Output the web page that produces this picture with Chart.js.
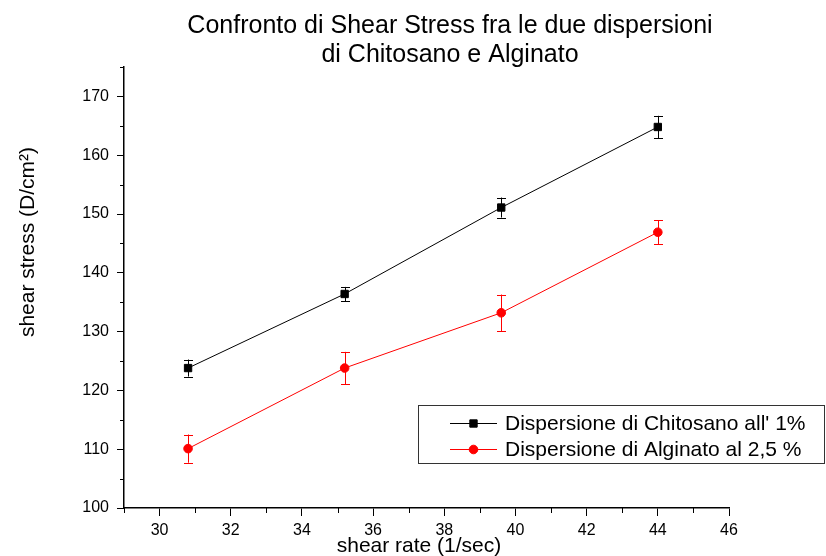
<!DOCTYPE html>
<html>
<head>
<meta charset="utf-8">
<script src="https://cdn.jsdelivr.net/npm/chart.js@4/dist/chart.umd.min.js"></script>
<style>
    html, body { margin: 0; padding: 0; background: #fff; }
</style>
</head>
<body>
<canvas id="shearChart" width="826" height="556"></canvas>
<script>
// Values
const shearRate = [30.8, 35.2, 39.6, 44.0];
const chitosano = [123.8, 136.4, 151.1, 164.8];
const chitosanoErr = [1.45, 1.2, 1.7, 1.9];
const alginato = [110.1, 123.8, 133.2, 146.9];
const alginatoErr = [2.4, 2.75, 3.1, 2.0];

// Axis ticks
const xTicks = [30, 32, 34, 36, 38, 40, 42, 44, 46];
const xMinorTicks = [29, 31, 33, 35, 37, 39, 41, 43, 45];
const yTicks = [100, 110, 120, 130, 140, 150, 160, 170];
const yMinorTicks = [105, 115, 125, 135, 145, 155, 165, 175];

// Texts
const chartTitle = ['Confronto di Shear Stress fra le due dispersioni', 'di Chitosano e Alginato'];
const xTitle = 'shear rate (1/sec)';
const yTitle = 'shear stress (D/cm²)';
const seriesNames = ["Dispersione di Chitosano all' 1%", 'Dispersione di Alginato al 2,5 %'];

const FONT = '"Liberation Sans", Arial, sans-serif';

// Build scatter points from the arrays
function toPoints(xs, ys) {
    return xs.map((x, i) => ({ x: x, y: ys[i] }));
}

// Error bars drawn through the chart scales
const errorBarPlugin = {
    id: 'errorBars',
    afterDatasetsDraw(chart) {
        const ctx = chart.ctx;
        const xScale = chart.scales.x;
        const yScale = chart.scales.y;
        chart.data.datasets.forEach(ds => {
            ctx.save();
            ctx.strokeStyle = ds.borderColor;
            ctx.lineWidth = 1;
            ds.data.forEach((p, i) => {
                const err = ds.errors[i];
                const px = Math.round(xScale.getPixelForValue(p.x)) + 0.5;
                const top = yScale.getPixelForValue(p.y + err);
                const bottom = yScale.getPixelForValue(p.y - err);
                ctx.beginPath();
                ctx.moveTo(px, top);
                ctx.lineTo(px, bottom);
                ctx.moveTo(px - 4.5, Math.round(top) + 0.5);
                ctx.lineTo(px + 4.5, Math.round(top) + 0.5);
                ctx.moveTo(px - 4.5, Math.round(bottom) + 0.5);
                ctx.lineTo(px + 4.5, Math.round(bottom) + 0.5);
                ctx.stroke();
            });
            ctx.restore();
        });
    }
};

// Minor ticks (shorter) outside the axes
const minorTickPlugin = {
    id: 'minorTicks',
    afterDraw(chart) {
        const ctx = chart.ctx;
        const area = chart.chartArea;
        ctx.save();
        ctx.strokeStyle = '#000';
        ctx.lineWidth = 1;
        ctx.beginPath();
        xMinorTicks.forEach(v => {
            const px = Math.round(chart.scales.x.getPixelForValue(v)) + 0.5;
            ctx.moveTo(px, area.bottom);
            ctx.lineTo(px, area.bottom + 5);
        });
        yMinorTicks.forEach(v => {
            const py = Math.round(chart.scales.y.getPixelForValue(v)) + 0.5;
            ctx.moveTo(area.left, py);
            ctx.lineTo(area.left - 4, py);
        });
        ctx.stroke();
        ctx.restore();
    }
};

// Title and axis titles
const textPlugin = {
    id: 'texts',
    afterDraw(chart) {
        const ctx = chart.ctx;
        ctx.save();
        ctx.fillStyle = '#000';
        ctx.textAlign = 'center';
        ctx.textBaseline = 'alphabetic';
        ctx.font = '25px ' + FONT;
        ctx.fillText(chartTitle[0], 450, 33);
        ctx.fillText(chartTitle[1], 450, 62);

        ctx.font = '21px ' + FONT;
        ctx.fillText(xTitle, 419, 552);

        ctx.translate(28, 242);
        ctx.rotate(-Math.PI / 2);
        ctx.textBaseline = 'middle';
        ctx.fillText(yTitle, 0, 0);
        ctx.restore();
    }
};

// Boxed legend inside the plot (Origin style)
const legendBoxPlugin = {
    id: 'legendBox',
    afterDraw(chart) {
        const ctx = chart.ctx;
        const box = { left: 418.5, top: 405.5, width: 406, height: 58 };
        ctx.save();
        ctx.strokeStyle = '#333';
        ctx.lineWidth = 1;
        ctx.strokeRect(box.left, box.top, box.width, box.height);
        ctx.font = '21px ' + FONT;
        ctx.textBaseline = 'middle';
        ctx.textAlign = 'left';
        chart.data.datasets.forEach((ds, i) => {
            const y = Math.round(box.top + 17 + i * 26) + 0.5;
            ctx.strokeStyle = ds.borderColor;
            ctx.lineWidth = 1;
            ctx.beginPath();
            ctx.moveTo(450, y);
            ctx.lineTo(497, y);
            ctx.stroke();
            ctx.fillStyle = ds.pointBackgroundColor;
            Chart.helpers.drawPoint(ctx, {
                pointStyle: ds.pointStyle,
                radius: ds.pointRadius,
                rotation: 0,
                borderWidth: 1
            }, 473.5, y);
            ctx.fillStyle = '#000';
            ctx.fillText(ds.label, 505, y + 0.5);
        });
        ctx.restore();
    }
};

new Chart(document.getElementById('shearChart'), {
    type: 'scatter',
    data: {
        datasets: [{
            label: seriesNames[0],
            data: toPoints(shearRate, chitosano),
            errors: chitosanoErr,
            showLine: true,
            borderColor: '#000',
            backgroundColor: '#000',
            borderWidth: 1,
            pointStyle: 'rect',
            pointRadius: 5.2,
            pointBackgroundColor: '#000',
            pointBorderColor: '#000',
            pointBorderWidth: 1
        }, {
            label: seriesNames[1],
            data: toPoints(shearRate, alginato),
            errors: alginatoErr,
            showLine: true,
            borderColor: '#ff0000',
            backgroundColor: '#ff0000',
            borderWidth: 1,
            pointStyle: 'circle',
            pointRadius: 4.3,
            pointBackgroundColor: '#ff0000',
            pointBorderColor: '#ff0000',
            pointBorderWidth: 1
        }]
    },
    options: {
        responsive: false,
        animation: false,
        devicePixelRatio: 1,
        layout: { padding: { top: 67, right: 97, left: 0, bottom: 0 } },
        plugins: {
            legend: { display: false },
            title: { display: false },
            tooltip: { enabled: false }
        },
        scales: {
            x: {
                type: 'linear',
                min: 29,
                max: 46,
                afterBuildTicks: scale => { scale.ticks = xTicks.map(v => ({ value: v })); },
                afterFit: scale => { scale.height = 48; },
                ticks: {
                    font: { family: FONT, size: 16 },
                    color: '#000',
                    padding: 5,
                    maxRotation: 0,
                    autoSkip: false
                },
                grid: {
                    display: true,
                    drawOnChartArea: false,
                    drawTicks: true,
                    tickLength: 8,
                    tickColor: '#000',
                    tickWidth: 1
                },
                border: { display: true, color: '#000', width: 1.5 }
            },
            y: {
                type: 'linear',
                min: 100,
                max: 175,
                afterBuildTicks: scale => { scale.ticks = yTicks.map(v => ({ value: v })); },
                afterFit: scale => { scale.width = 124; },
                ticks: {
                    font: { family: FONT, size: 16 },
                    color: '#000',
                    padding: 8,
                    autoSkip: false
                },
                grid: {
                    display: true,
                    drawOnChartArea: false,
                    drawTicks: true,
                    tickLength: 7,
                    tickColor: '#000',
                    tickWidth: 1
                },
                border: { display: true, color: '#000', width: 1.5 }
            }
        }
    },
    plugins: [errorBarPlugin, minorTickPlugin, textPlugin, legendBoxPlugin]
});
</script>
</body>
</html>
